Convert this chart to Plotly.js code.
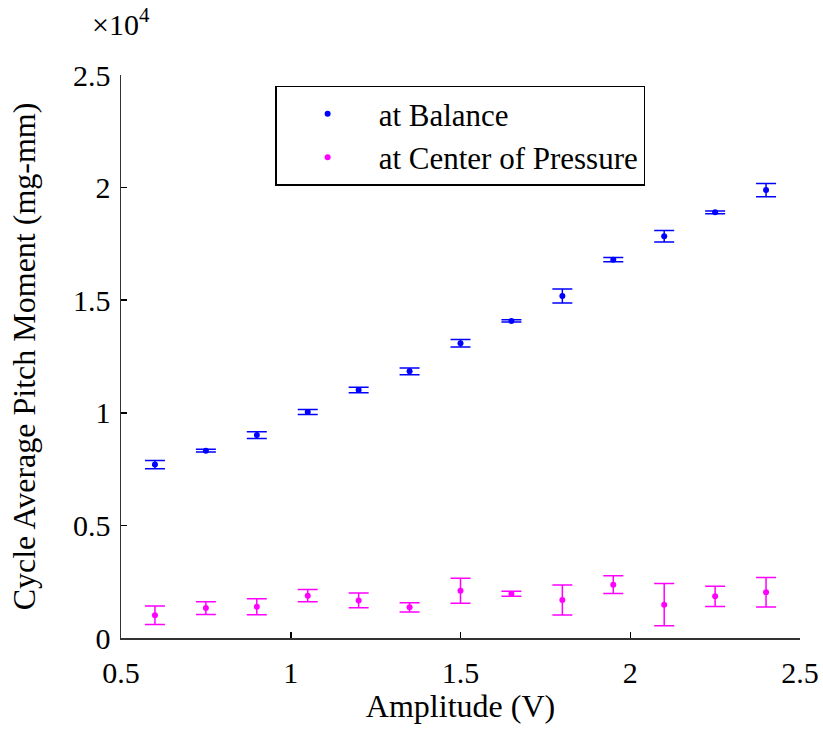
<!DOCTYPE html>
<html>
<head>
<meta charset="utf-8">
<script src="https://cdn.plot.ly/plotly-3.0.1.min.js"></script>
<style>html,body{margin:0;padding:0;background:#fff;}#chart{width:823px;height:740px;}</style>
</head>
<body>
<div id="chart"></div>
<script>
const amplitude = [0.6, 0.75, 0.9, 1.05, 1.2, 1.35, 1.5, 1.65, 1.8, 1.95, 2.1, 2.25, 2.4];
const balanceMoment = [7700, 8320, 9010, 10040, 11010, 11840, 13090, 14080, 15190, 16800, 17840, 18900, 19890];
const balanceErr = [185, 60, 148, 110, 125, 148, 163, 50, 311, 96, 252, 59, 296];
const copMoment = [1010, 1330, 1390, 1880, 1670, 1360, 2100, 1970, 1690, 2370, 1480, 1850, 2030];
const copErr = [414, 281, 355, 274, 326, 200, 555, 111, 666, 392, 940, 452, 651];
const yTickVals = [0, 5000, 10000, 15000, 20000, 25000];
const yTickText = ["0", "0.5", "1", "1.5", "2", "2.5"];
const xTickVals = [0.5, 1, 1.5, 2, 2.5];
const xTickText = ["0.5", "1", "1.5", "2", "2.5"];
const seriesNames = ["at Balance", "at Center of Pressure"];

const font = "Liberation Serif, Times New Roman, serif";
const fs = 30;
const ts = 32;

const traces = [
  {
    x: amplitude, y: balanceMoment, name: seriesNames[0], type: "scatter", mode: "markers",
    marker: {color: "#0000ff", size: 6},
    error_y: {type: "data", array: balanceErr, visible: true, color: "#0000ff", thickness: 1.5, width: 10}
  },
  {
    x: amplitude, y: copMoment, name: seriesNames[1], type: "scatter", mode: "markers",
    marker: {color: "#ff00ff", size: 6},
    error_y: {type: "data", array: copErr, visible: true, color: "#ff00ff", thickness: 1.5, width: 10}
  }
];

const layout = {
  width: 823, height: 740,
  margin: {l: 121, r: 23, t: 75, b: 102},
  paper_bgcolor: "#fff", plot_bgcolor: "#fff",
  font: {family: font, size: fs, color: "#000"},
  showlegend: true,
  legend: {
    x: 0.227, y: 0.981, xanchor: "left", yanchor: "top",
    bordercolor: "#000", borderwidth: 1.5, bgcolor: "#fff",
    font: {family: font, size: 31, color: "#000"},
    itemwidth: 92
  },
  xaxis: {
    range: [0.5, 2.5], tickvals: xTickVals, ticktext: xTickText,
    ticks: "inside", ticklen: 6, tickcolor: "#000", tickwidth: 1.5,
    showline: true, linecolor: "#333", linewidth: 1.5, mirror: false,
    showgrid: false, zeroline: false, ticklabelstandoff: 7,
    tickfont: {family: font, size: fs},
    title: {text: "Amplitude (V)", font: {family: font, size: ts}, standoff: 0}
  },
  yaxis: {
    range: [0, 25000], tickvals: yTickVals, ticktext: yTickText,
    ticks: "inside", ticklen: 6, tickcolor: "#000", tickwidth: 1.5,
    showline: true, linecolor: "#333", linewidth: 1.5, mirror: false,
    showgrid: false, zeroline: false, ticklabelstandoff: 3,
    tickfont: {family: font, size: fs},
    title: {text: "Cycle Average Pitch Moment (mg-mm)", font: {family: font, size: ts}, standoff: 28}
  },
  annotations: [
    {text: "×10<sup>4</sup>", xref: "paper", yref: "paper", x: 0, y: 1, xanchor: "center", yanchor: "bottom",
     xshift: 0, yshift: 32, showarrow: false, font: {family: font, size: fs, color: "#000"}}
  ]
};

Plotly.newPlot("chart", traces, layout, {displayModeBar: false, staticPlot: true});
</script>
</body>
</html>
